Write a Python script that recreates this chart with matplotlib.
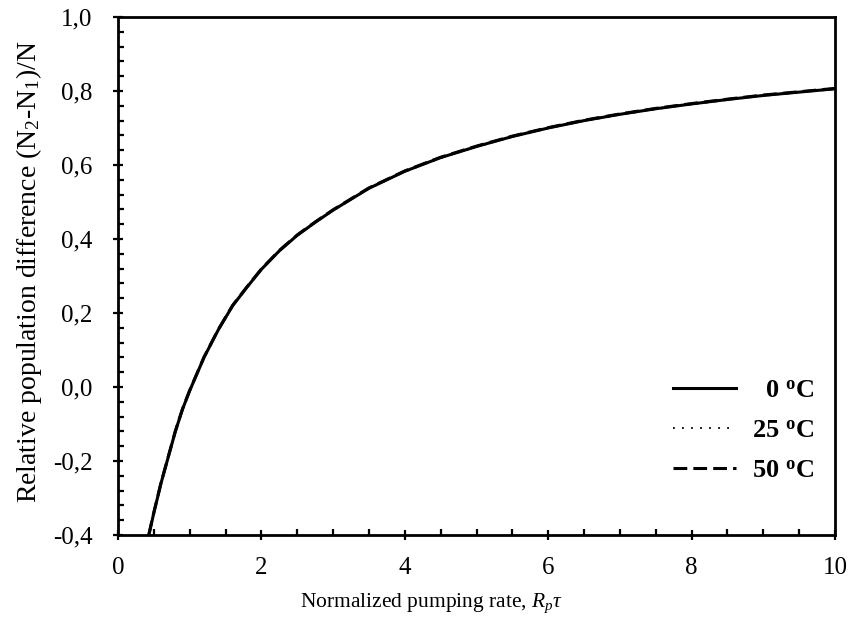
import matplotlib
matplotlib.use("Agg")
import matplotlib.pyplot as plt
from matplotlib.ticker import MultipleLocator, FuncFormatter

# Data
rp_tau = [0.43, 0.5, 0.6, 0.7, 0.8, 0.9, 1.0, 1.2, 1.4, 1.6, 1.8, 2.0, 2.25, 2.5, 2.75, 3.0,
          3.5, 4.0, 4.5, 5.0, 5.5, 6.0, 6.5, 7.0, 7.5, 8.0, 8.5, 9.0, 9.5, 10.0]
diff_0C = [-0.400, -0.340, -0.260, -0.190, -0.120, -0.060, -0.010, 0.080, 0.155, 0.220, 0.270,
           0.318, 0.368, 0.410, 0.445, 0.478, 0.537, 0.583, 0.620, 0.650, 0.677, 0.700,
           0.720, 0.737, 0.752, 0.765, 0.777, 0.788, 0.797, 0.806]
diff_25C = [-0.401, -0.341, -0.261, -0.191, -0.121, -0.061, -0.011, 0.079, 0.154, 0.219, 0.269,
            0.317, 0.367, 0.409, 0.444, 0.477, 0.536, 0.582, 0.619, 0.649, 0.676, 0.699,
            0.719, 0.736, 0.751, 0.764, 0.776, 0.787, 0.796, 0.805]
diff_50C = [-0.399, -0.339, -0.259, -0.189, -0.119, -0.059, -0.009, 0.081, 0.156, 0.221, 0.271,
            0.319, 0.369, 0.411, 0.446, 0.479, 0.538, 0.584, 0.621, 0.651, 0.678, 0.701,
            0.721, 0.738, 0.753, 0.766, 0.778, 0.789, 0.798, 0.807]
labels = ["\u20070 $^{\\mathbf{o}}$C", "25 $^{\\mathbf{o}}$C", "50 $^{\\mathbf{o}}$C"]

plt.rcParams['font.family'] = ['Liberation Serif', 'DejaVu Serif']
plt.rcParams['mathtext.fontset'] = 'custom'
plt.rcParams['mathtext.rm'] = 'Liberation Serif'
plt.rcParams['mathtext.it'] = 'Liberation Serif:italic'
plt.rcParams['mathtext.bf'] = 'Liberation Serif:bold'

W, H = 856, 630
fig = plt.figure(figsize=(W / 100, H / 100), dpi=100)
ax = fig.add_axes([118 / W, 1 - 535 / H, (835 - 118) / W, (535 - 17) / H])

ax.plot(rp_tau, diff_0C, color='black', lw=2.2, ls='-', label=labels[0])
ax.plot(rp_tau, diff_25C, color='black', lw=1.3, ls=(0, (1, 4)), label=labels[1])
ax.plot(rp_tau, diff_50C, color='black', lw=2.2, ls=(0, (4.5, 2)), label=labels[2])

ax.set_xlim(0, 10)
ax.set_ylim(-0.4, 1.0)
ax.xaxis.set_major_locator(MultipleLocator(2))
ax.xaxis.set_minor_locator(MultipleLocator(0.5))
ax.yaxis.set_major_locator(MultipleLocator(0.2))
ax.yaxis.set_minor_locator(MultipleLocator(0.04))
ax.yaxis.set_major_formatter(FuncFormatter(lambda v, p: f"{v:.1f}".replace('.', ',').replace('-0,0', '0,0')))
ax.xaxis.set_major_formatter(FuncFormatter(lambda v, p: f"{v:.0f}"))

for s in ax.spines.values():
    s.set_linewidth(2.0)
ax.tick_params(axis='both', which='major', direction='inout', length=7, width=1.6, labelsize=18)
ax.tick_params(axis='y', which='major', pad=15)
ax.tick_params(axis='x', which='major', pad=12)
ax.tick_params(axis='both', which='minor', direction='in', length=4, width=1.6)

ax.set_xlabel("Normalized pumping rate, $R_p\\tau$", fontsize=15.5)
ax.xaxis.set_label_coords((432 - 118) / (835 - 118), -(603 - 535) / (535 - 17), transform=ax.transAxes)
ax.xaxis.label.set_va('center')
ax.set_ylabel("Relative population difference (N$_2$-N$_1$)/N", fontsize=20)
ax.yaxis.set_label_coords(-(118 - 29) / (835 - 118), (535 - 272) / (535 - 17), transform=ax.transAxes)
ax.yaxis.label.set_va('center')

leg = ax.legend(loc='upper left', bbox_to_anchor=(673 / W, 1 - 379 / H),
                bbox_transform=fig.transFigure, frameon=False, borderpad=0, borderaxespad=0,
                prop={'family': ['Liberation Serif', 'DejaVu Serif'], 'weight': 'bold', 'size': 19},
                handlelength=2.4, labelspacing=0.62, handletextpad=0.6)

fig.savefig("out.png", dpi=100)
